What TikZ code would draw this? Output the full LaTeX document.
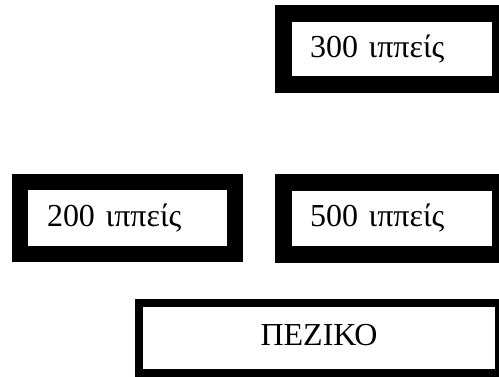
\documentclass[tikz,border=0pt]{standalone}
\usepackage{fontspec}
\setmainfont{Liberation Serif}
\tikzset{
  troop/.style={draw=black, rectangle, inner ysep=0pt, font=\fontsize{32}{36}\selectfont, text height=22pt, text depth=6pt},
  cavalry/.style={troop, line width=16pt, minimum height=72pt, align=left}
}
\begin{document}
\begin{tikzpicture}[x=1pt,y=-1pt]
\useasboundingbox (0,0) rectangle (499,376);
\node[cavalry, line width=17pt, minimum width=217pt, minimum height=71pt, inner xsep=26.5pt, text width=164pt] (ippeis300) at (392,49) {300 ιππείς};
\node[cavalry, minimum width=215pt, inner xsep=27pt, text width=161pt] (ippeis200) at (127.5,218) {200 ιππείς};
\node[cavalry, line width=17pt, minimum width=217pt, inner xsep=26.5pt, text width=164pt] (ippeis500) at (392,218) {500 ιππείς};
\node[troop, line width=8pt, minimum width=360pt, minimum height=70.5pt, align=center] (peziko) at (319,337.75) {ΠΕΖΙΚΟ};
\end{tikzpicture}
\end{document}
